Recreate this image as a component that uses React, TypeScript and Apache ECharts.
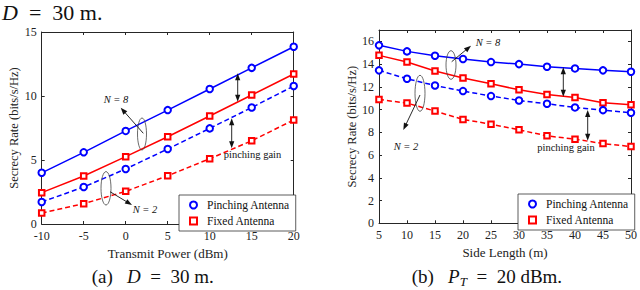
import React, { useEffect, useRef } from "react";
import * as echarts from "echarts";

const xA = [-10, -5, 0, 5, 10, 15, 20];
const pinN8A = [4.0, 5.6, 7.27, 8.9, 10.55, 12.2, 13.85];
const fixN8A = [2.45, 3.75, 5.26, 6.82, 8.44, 10.08, 11.72];
const pinN2A = [1.72, 2.89, 4.3, 5.86, 7.47, 9.1, 10.78];
const fixN2A = [0.86, 1.59, 2.55, 3.77, 5.1, 6.5, 8.13];

const xB = [5, 10, 15, 20, 25, 30, 35, 40, 45, 50];
const pinN8B = [15.65, 15.12, 14.74, 14.45, 14.18, 14.0, 13.77, 13.62, 13.45, 13.33];
const fixN8B = [14.77, 14.18, 13.39, 12.77, 12.27, 11.74, 11.33, 11.07, 10.6, 10.42];
const pinN2B = [13.45, 12.71, 12.12, 11.63, 11.19, 10.8, 10.51, 10.19, 9.95, 9.72];
const fixN2B = [10.89, 10.57, 9.87, 9.13, 8.72, 8.22, 7.69, 7.4, 7.01, 6.75];

const legendNames = ["Pinching Antenna", "Fixed Antenna"];

const FONT = "Liberation Serif, serif";
const AX = "#262626";
const BLUE = "#0000ff";
const RED = "#ff0000";

function zip(xs: number[], ys: number[]) {
  return xs.map((x, i) => [x, ys[i]]);
}

function arrowEls(x1: number, y1: number, x2: number, y2: number, both: boolean) {
  const els: any[] = [];
  const dx = x2 - x1, dy = y2 - y1;
  const len = Math.sqrt(dx * dx + dy * dy);
  const ux = dx / len, uy = dy / len;
  const L = 7, W = 2.6;
  const head = (px: number, py: number, vx: number, vy: number) => {
    const bx = px - vx * L, by = py - vy * L;
    return {
      type: "polygon",
      shape: { points: [[px, py], [bx - vy * W, by + vx * W], [bx + vy * W, by - vx * W]] },
      style: { fill: "#111" },
      z: 10,
    };
  };
  const sx = both ? x1 + ux * L * 0.8 : x1;
  const sy = both ? y1 + uy * L * 0.8 : y1;
  els.push({
    type: "line",
    shape: { x1: sx, y1: sy, x2: x2 - ux * L * 0.8, y2: y2 - uy * L * 0.8 },
    style: { stroke: "#111", lineWidth: 0.9 },
    z: 10,
  });
  els.push(head(x2, y2, ux, uy));
  if (both) els.push(head(x1, y1, -ux, -uy));
  return els;
}

function ellipse(cx: number, cy: number, rx: number, ry: number) {
  return {
    type: "ellipse",
    shape: { cx, cy, rx, ry },
    style: { stroke: "#444", fill: null, lineWidth: 0.8 },
    z: 10,
  };
}

function label(x: number, y: number, text: string, italic: boolean) {
  return {
    type: "text",
    x,
    y,
    z: 10,
    style: {
      text,
      fontFamily: FONT,
      fontSize: 10.5,
      fontStyle: italic ? "italic" : "normal",
      fill: "#111",
      align: "center",
      verticalAlign: "middle",
    },
  };
}

function mkSeries(name: string, data: number[][], color: string, dashed: boolean, sym: string, axis: number) {
  return {
    type: "line",
    name,
    data,
    xAxisIndex: axis,
    yAxisIndex: axis,
    symbol: sym,
    symbolSize: sym === "emptyCircle" ? 6.5 : 5.5,
    showSymbol: true,
    lineStyle: { color, width: 1.5, type: dashed ? [5, 3] : "solid" },
    itemStyle: { color, borderWidth: 1.3 },
    z: 3,
  };
}

function xAxisPair(gi: number, min: number, max: number, interval: number, name: string) {
  const common = {
    type: "value",
    gridIndex: gi,
    min,
    max,
    interval,
    splitLine: { show: false },
    axisLine: { show: true, onZero: false, lineStyle: { color: AX, width: 1 } },
    axisTick: { show: true, inside: true, length: 3, lineStyle: { color: AX } },
  };
  return [
    {
      ...common,
      position: "bottom",
      name,
      nameLocation: "middle",
      nameGap: 18,
      nameTextStyle: { fontFamily: FONT, fontSize: 13, color: "#222" },
      axisLabel: { fontFamily: FONT, fontSize: 12, lineHeight: 12, color: "#222", margin: 6 },
    },
    { ...common, position: "top", axisLabel: { show: false } },
  ];
}

function yAxisPair(gi: number, min: number, max: number, interval: number, name: string) {
  const common = {
    type: "value",
    gridIndex: gi,
    min,
    max,
    interval,
    splitLine: { show: false },
    axisLine: { show: true, onZero: false, lineStyle: { color: AX, width: 1 } },
    axisTick: { show: true, inside: true, length: 3, lineStyle: { color: AX } },
  };
  return [
    {
      ...common,
      position: "left",
      name,
      nameLocation: "middle",
      nameGap: 20,
      nameTextStyle: { fontFamily: FONT, fontSize: 12.5, color: "#222" },
      axisLabel: {
        fontFamily: FONT,
        fontSize: 12,
        lineHeight: 11,
        color: "#222",
        margin: 5,
        showMaxLabel: max % interval === 0,
      },
    },
    { ...common, position: "right", axisLabel: { show: false } },
  ];
}

function legend(left: number, top: number) {
  return {
    left,
    top,
    orient: "vertical",
    padding: [4, 6, 4, 10],
    itemGap: 4,
    itemWidth: 7,
    itemHeight: 7,
    borderColor: "#333",
    borderWidth: 0.8,
    borderRadius: 0,
    backgroundColor: "#fff",
    textStyle: { fontFamily: FONT, fontSize: 11.5, color: "#111", padding: [0, 0, 0, 5] },
    data: [
      { name: legendNames[0], icon: "emptyCircle" },
      { name: legendNames[1], icon: "emptyRect" },
    ],
  };
}

export default function App() {
  const ref = useRef<HTMLDivElement>(null);
  useEffect(() => {
    if (!ref.current) return;
    const chart = echarts.init(ref.current, null, { renderer: "svg" });
    const xa = xAxisPair(0, -10, 20, 5, "Transmit Power (dBm)");
    const xb = xAxisPair(1, 5, 50, 5, "Side Length (m)");
    const ya = yAxisPair(0, 0, 15, 5, "Secrecy Rate (bits/s/Hz)");
    const yb = yAxisPair(1, 0, 17, 2, "Secrecy Rate (bits/s/Hz)");

    const graphics: any[] = [
      {
        type: "text",
        x: 2,
        y: 12,
        style: {
          text: "{i|D}  =  30 m.",
          fontFamily: FONT,
          fontSize: 22,
          fill: "#111",
          verticalAlign: "middle",
          rich: { i: { fontStyle: "italic", fontFamily: FONT, fontSize: 22 } },
        },
      },
      {
        type: "text",
        x: 91.7,
        y: 276,
        style: {
          text: "(a)   {i|D}  =  30 m.",
          fontFamily: FONT,
          fontSize: 19,
          fill: "#111",
          align: "left",
          verticalAlign: "middle",
          rich: { i: { fontStyle: "italic", fontFamily: FONT, fontSize: 19 } },
        },
      },
      {
        type: "text",
        x: 411.7,
        y: 276,
        style: {
          text: "(b)   {i|P}{s|T}  =  20 dBm.",
          fontFamily: FONT,
          fontSize: 19,
          fill: "#111",
          align: "left",
          verticalAlign: "middle",
          rich: {
            i: { fontStyle: "italic", fontFamily: FONT, fontSize: 19 },
            s: { fontStyle: "italic", fontFamily: FONT, fontSize: 13, padding: [10, 0, 0, 0] },
          },
        },
      },
      // left annotations
      ellipse(142, 134, 4.5, 16),
      ...arrowEls(143.3, 133.3, 120.7, 107.7, false),
      label(116, 99.5, "N = 8", true),
      ellipse(106, 188.3, 5, 16.7),
      ...arrowEls(110, 191.7, 132, 205, false),
      label(145, 209.5, "N = 2", true),
      ...arrowEls(237.7, 73.3, 237.7, 101.7, true),
      ...arrowEls(231.7, 118.3, 231.7, 148.3, true),
      label(252.5, 154.5, "pinching gain", false),
      // right annotations
      ellipse(451, 65, 5, 14.3),
      ...arrowEls(451.7, 61.7, 471, 45.7, false),
      label(488, 42.5, "N = 8", true),
      ellipse(420, 93.3, 5, 18),
      ...arrowEls(420, 95, 403.3, 130, false),
      label(406, 146.5, "N = 2", true),
      ...arrowEls(563.3, 67.3, 563.3, 96.7, true),
      ...arrowEls(587.7, 110, 587.7, 140.7, true),
      label(566, 147.5, "pinching gain", false),
    ];

    chart.setOption({
      animation: false,
      backgroundColor: "#fff",
      grid: [
        { left: 41.7, top: 32, width: 252, height: 192 },
        { left: 379, top: 30, width: 254, height: 193.3 },
      ],
      xAxis: [...xa, ...xb],
      yAxis: [...ya, ...yb],
      legend: [legend(179, 195), legend(518, 194)],
      series: [
        mkSeries(legendNames[0], zip(xA, pinN8A), BLUE, false, "emptyCircle", 0),
        mkSeries(legendNames[1], zip(xA, fixN8A), RED, false, "emptyRect", 0),
        mkSeries(legendNames[0], zip(xA, pinN2A), BLUE, true, "emptyCircle", 0),
        mkSeries(legendNames[1], zip(xA, fixN2A), RED, true, "emptyRect", 0),
        mkSeries(legendNames[0], zip(xB, pinN8B), BLUE, false, "emptyCircle", 2),
        mkSeries(legendNames[1], zip(xB, fixN8B), RED, false, "emptyRect", 2),
        mkSeries(legendNames[0], zip(xB, pinN2B), BLUE, true, "emptyCircle", 2),
        mkSeries(legendNames[1], zip(xB, fixN2B), RED, true, "emptyRect", 2),
      ],
      graphic: graphics,
    });
    return () => chart.dispose();
  }, []);
  return (
    <div
      ref={ref}
      style={{ position: "fixed", left: 0, top: 0, width: 640, height: 290, background: "#fff" }}
    />
  );
}
